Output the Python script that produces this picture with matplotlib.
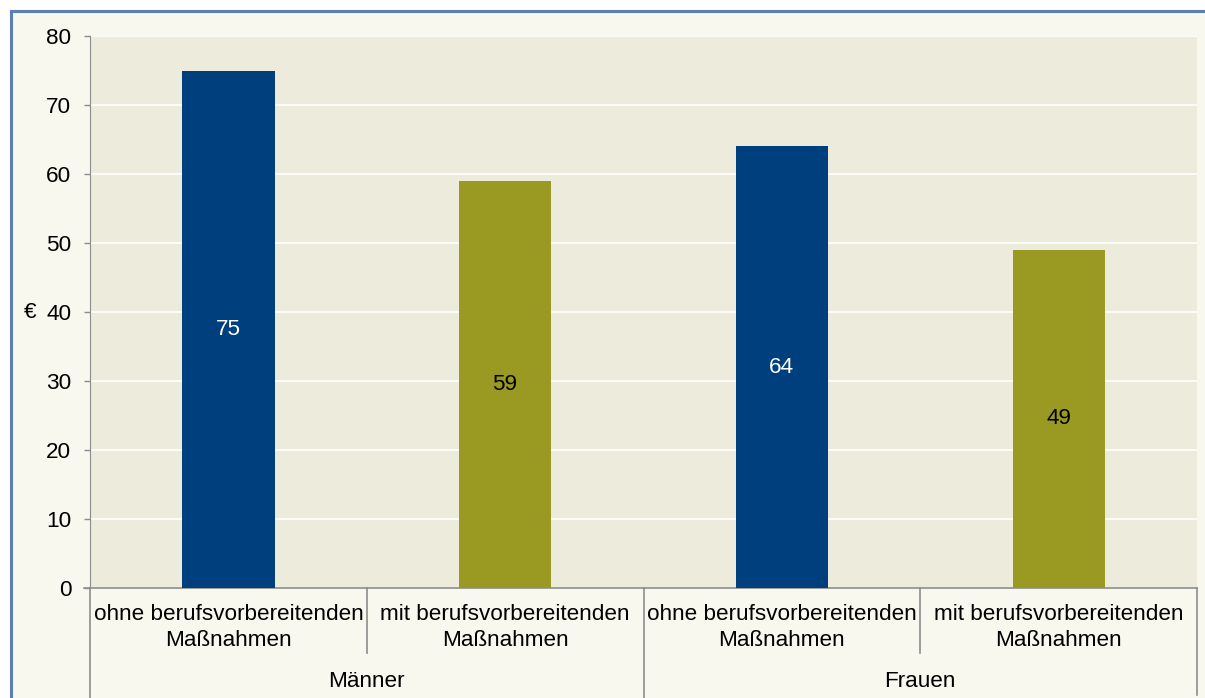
import matplotlib.pyplot as plt
from matplotlib.patches import Rectangle
from matplotlib.transforms import blended_transform_factory

plt.rcParams['font.family'] = ['Liberation Sans', 'DejaVu Sans']

# -------------------------------
# Data
# -------------------------------
groups = ["Männer", "Frauen"]
sub_labels = ["ohne berufsvorbereitenden\nMaßnahmen", "mit berufsvorbereitenden\nMaßnahmen",
              "ohne berufsvorbereitenden\nMaßnahmen", "mit berufsvorbereitenden\nMaßnahmen"]
values = [75, 59, 64, 49]
bar_colors = ["#003F7D", "#9A9A22", "#003F7D", "#9A9A22"]
label_colors = ["white", "black", "white", "black"]
y_ticks = [0, 10, 20, 30, 40, 50, 60, 70, 80]

W, H = 1205, 698
FS = 16.2
fig = plt.figure(figsize=(W / 100, H / 100), dpi=100)
fig.patch.set_facecolor("white")

# outer chart frame (right and bottom edges lie outside the picture)
fig.patches.append(Rectangle((10.5 / W, -0.05), 1.1, 1.05 - 11.5 / H,
                             transform=fig.transFigure, facecolor="#F8F8EE",
                             edgecolor="#5B7FBA", linewidth=2.2, zorder=-10))

# plot area
x0, x1, y_top, y_bot = 90, 1197, 36, 588
ax = fig.add_axes([x0 / W, 1 - y_bot / H, (x1 - x0) / W, (y_bot - y_top) / H])
ax.set_facecolor("#EDEBDC")

x = list(range(len(values)))
bars = ax.bar(x, values, width=1 / 3, color=bar_colors, zorder=3)
for xi, v, c in zip(x, values, label_colors):
    ax.text(xi, v / 2, str(v), ha="center", va="center", color=c, fontsize=FS, zorder=4)

ax.set_xlim(-0.5, len(values) - 0.5)
ax.set_ylim(0, 80)
ax.set_yticks(y_ticks)
ax.yaxis.grid(True, color="white", linewidth=1.2, zorder=1)
ax.set_axisbelow(True)
ax.set_xticks([])
ax.tick_params(axis="y", length=4.5, width=1, color="#8C8C8C", pad=9, labelsize=FS)

for s in ["top", "right"]:
    ax.spines[s].set_visible(False)
ax.spines["left"].set_color("#8C8C8C")
ax.spines["bottom"].set_color("#8C8C8C")
ax.spines["bottom"].set_linewidth(1.2)

# € label next to 40
ax.text(-0.054, 40, "€", transform=ax.get_yaxis_transform(), ha="center", va="center",
        fontsize=FS)

# category axis
h_px = y_bot - y_top
tr = blended_transform_factory(ax.transData, ax.transAxes)
gray = "#8C8C8C"
for xi, lab in zip(x, sub_labels):
    ax.text(xi, -39.5 / h_px, lab, transform=tr, ha="center", va="center",
            fontsize=FS, linespacing=1.3)
for b in [0.5, 2.5]:
    ax.plot([b, b], [0, -65 / h_px], transform=tr, color=gray, lw=1.2, clip_on=False)
for b in [-0.5, 1.5, 3.5]:
    bottom = -107 / h_px if b == 3.5 else -(H - y_bot + 5) / h_px
    ax.plot([b, b], [0, bottom], transform=tr, color=gray, lw=1.2, clip_on=False)
ax.plot([-0.5 - 6 / ((x1 - x0) / 4), -0.5], [0, 0], transform=tr, color=gray, lw=1.2,
        clip_on=False)
for gi, g in enumerate(groups):
    ax.text(gi * 2 + 0.5, -93.5 / h_px, g, transform=tr, ha="center", va="center",
            fontsize=FS)

fig.savefig("out.png", dpi=100)
